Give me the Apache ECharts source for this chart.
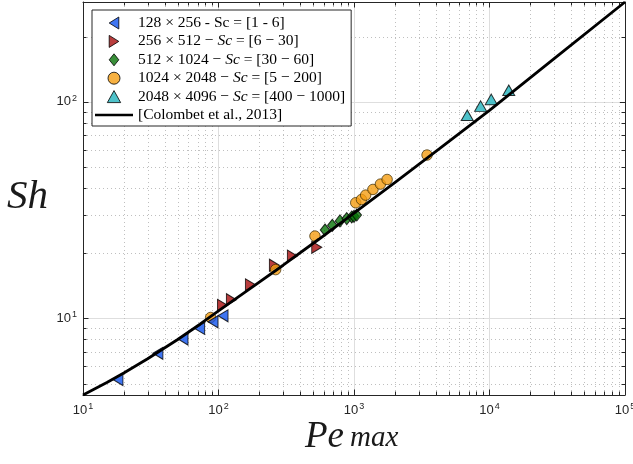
<!DOCTYPE html>
<html>
<head>
<meta charset="utf-8">
<script src="https://cdn.jsdelivr.net/npm/echarts@6/dist/echarts.min.js"></script>
<style>
  html, body { margin: 0; padding: 0; background: #fff; }
  #chart { width: 633px; height: 464px; }
</style>
</head>
<body>
<div id="chart"></div>
<script>
// Series names (legend order)
const seriesNames = [
  '128 × 256 - Sc = [1 - 6]',
  '256 × 512 − Sc = [6 − 30]',
  '512 × 1024 − Sc = [30 − 60]',
  '1024 × 2048 − Sc = [5 − 200]',
  '2048 × 4096 − Sc = [400 − 1000]',
  '[Colombet et al., 2013]'
];

// 128 x 256 runs
const peBlue = [18.1, 35.7, 54.7, 72.6, 91, 108];
const shBlue = [5.22, 6.90, 8.03, 8.99, 9.64, 10.28];

// 256 x 512 runs
const peRed = [107, 124.5, 172, 258.5, 351, 531];
const shRed = [11.5, 12.2, 14.3, 17.6, 19.4, 21.3];

// 512 x 1024 runs
const peGreen = [611, 692, 788, 884, 962, 1000, 1048];
const shGreen = [25.6, 26.9, 28.2, 28.9, 29.4, 29.6, 30.0];

// 1024 x 2048 runs
const peOrange = [87.5, 264, 515, 1030, 1135, 1219, 1380, 1566, 1755, 3460];
const shOrange = [10.1, 16.8, 24.0, 34.2, 35.4, 37.1, 39.4, 41.7, 43.8, 56.8];

// 2048 x 4096 runs
const peCyan = [6850, 8600, 10300, 13870];
const shCyan = [86.7, 95.5, 102.6, 113];

// Correlation of Colombet et al. (2013)
const peRef = [10, 15, 20, 30, 50, 73, 100, 170, 300, 550, 1000, 2000, 4300, 10000, 30000, 100000];
const shRef = [4.43, 5.06, 5.60, 6.51, 7.99, 9.40, 10.83, 13.7, 17.6, 23.2, 30.6, 42.4, 60.9, 91.4, 158.3, 289];

// Axis ranges and minor tick values
const xMin = 10, xMax = 100000;
const yMin = 4.43, yMax = 289;
const xMinorTicks = [20, 30, 40, 50, 60, 70, 80, 90,
                     200, 300, 400, 500, 600, 700, 800, 900,
                     2000, 3000, 4000, 5000, 6000, 7000, 8000, 9000,
                     20000, 30000, 40000, 50000, 60000, 70000, 80000, 90000];
const yMinorTicks = [5, 6, 7, 8, 9, 20, 30, 40, 50, 60, 70, 80, 90, 200];

const zip = (a, b) => a.map((v, i) => [v, b[i]]);

const axisColor = '#262626';
const minorLen = 3.5;
const majorLen = 5.5;

// marker shapes
const triLeft = 'path://M0,5L8,0L8,10Z';
const triRight = 'path://M8,5L0,0L0,10Z';
const triUp = 'path://M5,0L10,9L0,9Z';
const diamond = 'path://M4,0L8,5L4,10L0,5Z';
const lineIcon = 'path://M0,0L38,0L38,2.6L0,2.6Z';

function powLabel(v) {
  const e = Math.round(Math.log10(v));
  if (Math.abs(v - Math.pow(10, e)) < 1e-6 * v) return '{b|10}{s|' + e + '}';
  return '';
}
const labelRich = {
  b: { fontSize: 13, fontFamily: 'Liberation Sans', color: axisColor },
  s: { fontSize: 9, fontFamily: 'Liberation Sans', color: axisColor, padding: [0, 0, 7, 1] }
};

function legendLabel(name) {
  if (name.indexOf('−') >= 0) {
    const parts = name.split('Sc');
    return '{r|' + parts[0] + '}{i|Sc}{r|' + parts[1] + '}';
  }
  return '{r|' + name + '}';
}

// dotted minor grid lines and inward minor ticks along x
function renderMinorX(params, api) {
  const v = api.value(0);
  const b = api.coord([v, yMin]);
  const t = api.coord([v, yMax]);
  const x = Math.round(b[0]) + 0.5;
  return {
    type: 'group',
    children: [
      { type: 'line', shape: { x1: x, y1: t[1], x2: x, y2: b[1] },
        style: { stroke: '#bfbfbf', lineWidth: 1, lineDash: [1, 3] } },
      { type: 'line', shape: { x1: x, y1: b[1], x2: x, y2: b[1] - minorLen },
        style: { stroke: axisColor, lineWidth: 1 } },
      { type: 'line', shape: { x1: x, y1: t[1], x2: x, y2: t[1] + minorLen },
        style: { stroke: axisColor, lineWidth: 1 } }
    ]
  };
}
// same along y
function renderMinorY(params, api) {
  const v = api.value(1);
  const l = api.coord([xMin, v]);
  const r = api.coord([xMax, v]);
  const y = Math.round(l[1]) + 0.5;
  return {
    type: 'group',
    children: [
      { type: 'line', shape: { x1: l[0], y1: y, x2: r[0], y2: y },
        style: { stroke: '#bfbfbf', lineWidth: 1, lineDash: [1, 3] } },
      { type: 'line', shape: { x1: l[0], y1: y, x2: l[0] + minorLen, y2: y },
        style: { stroke: axisColor, lineWidth: 1 } },
      { type: 'line', shape: { x1: r[0], y1: y, x2: r[0] - minorLen, y2: y },
        style: { stroke: axisColor, lineWidth: 1 } }
    ]
  };
}

const baseAxis = {
  type: 'log',
  logBase: 10,
  axisLine: { show: true, onZero: false, lineStyle: { color: axisColor, width: 1 } },
  axisTick: { show: true, inside: true, length: majorLen, lineStyle: { color: axisColor, width: 1 } },
  minorTick: { show: false },
  splitLine: { show: false }
};

const chart = echarts.init(document.getElementById('chart'), null, { renderer: 'canvas' });

chart.setOption({
  animation: false,
  backgroundColor: '#ffffff',
  grid: { left: 83, right: 8, top: 2, bottom: 69, containLabel: false, outerBoundsMode: 'none' },
  xAxis: [
    Object.assign({}, baseAxis, {
      position: 'bottom', min: xMin, max: xMax,
      axisLabel: { show: true, margin: 7, formatter: powLabel, rich: labelRich },
      splitLine: { show: true, lineStyle: { color: '#dedede', width: 1 } }
    }),
    Object.assign({}, baseAxis, {
      position: 'top', min: xMin, max: xMax,
      axisLabel: { show: false }
    })
  ],
  yAxis: [
    Object.assign({}, baseAxis, {
      position: 'left', min: yMin, max: yMax,
      axisLabel: { show: true, margin: 6, formatter: powLabel, rich: labelRich },
      splitLine: { show: true, lineStyle: { color: '#dedede', width: 1 } }
    }),
    Object.assign({}, baseAxis, {
      position: 'right', min: yMin, max: yMax,
      axisLabel: { show: false }
    })
  ],
  legend: {
    data: [
      { name: seriesNames[0], icon: triLeft },
      { name: seriesNames[1], icon: triRight },
      { name: seriesNames[2], icon: diamond },
      { name: seriesNames[3], icon: 'circle' },
      { name: seriesNames[4], icon: triUp },
      { name: seriesNames[5], icon: lineIcon, itemStyle: { borderWidth: 0 } }
    ],
    orient: 'vertical',
    left: 92,
    top: 10,
    padding: [5, 6, 3, 3],
    itemGap: 2.4,
    itemWidth: 38,
    itemHeight: 12,
    symbolKeepAspect: true,
    backgroundColor: '#ffffff',
    borderColor: axisColor,
    borderWidth: 1,
    borderRadius: 0,
    itemStyle: { borderWidth: 1, borderColor: '#000' },
    formatter: legendLabel,
    textStyle: {
      color: '#000',
      fontFamily: 'Liberation Serif',
      fontSize: 15.5,
      lineHeight: 16,
      rich: {
        r: { fontFamily: 'Liberation Serif', fontSize: 15.5, color: '#000' },
        i: { fontFamily: 'Liberation Serif', fontStyle: 'italic', fontSize: 15.5, color: '#000' }
      }
    }
  },
  graphic: [
    { type: 'text', x: 7, y: 197, silent: true,
      style: { text: 'Sh', font: 'italic 41px "Liberation Serif"', fill: '#1a1a1a',
               verticalAlign: 'middle', align: 'left' } },
    { type: 'text', x: 305, y: 437, silent: true,
      style: { text: 'Pe', font: 'italic 37px "Liberation Serif"', fill: '#1a1a1a',
               verticalAlign: 'middle', align: 'left' } },
    { type: 'text', x: 350, y: 438, silent: true,
      style: { text: 'max', font: 'italic 29px "Liberation Serif"', fill: '#1a1a1a',
               verticalAlign: 'middle', align: 'left' } }
  ],
  series: [
    { type: 'custom', name: 'minor-x', silent: true, xAxisIndex: 0, yAxisIndex: 0,
      data: xMinorTicks.map(v => [v, yMin]), renderItem: renderMinorX, z: 1 },
    { type: 'custom', name: 'minor-y', silent: true, xAxisIndex: 0, yAxisIndex: 0,
      data: yMinorTicks.map(v => [xMin, v]), renderItem: renderMinorY, z: 1 },
    { name: seriesNames[2], type: 'scatter', data: zip(peGreen, shGreen),
      symbol: diamond, symbolSize: [9.5, 12], z: 3,
      itemStyle: { color: '#087308', borderColor: '#000', borderWidth: 1 } },
    { name: seriesNames[1], type: 'scatter', data: zip(peRed, shRed),
      symbol: triRight, symbolSize: [10, 12], z: 3,
      itemStyle: { color: '#a80c0c', borderColor: '#000', borderWidth: 1 } },
    { name: seriesNames[3], type: 'scatter', data: zip(peOrange, shOrange),
      symbol: 'circle', symbolSize: 10.5, z: 3,
      itemStyle: { color: '#f59d11', borderColor: '#3a2a00', borderWidth: 0.9 } },
    { name: seriesNames[0], type: 'scatter', data: zip(peBlue, shBlue),
      symbol: triLeft, symbolSize: [10, 12], z: 3,
      itemStyle: { color: '#0f52ee', borderColor: '#000', borderWidth: 1 } },
    { name: seriesNames[4], type: 'scatter', data: zip(peCyan, shCyan),
      symbol: triUp, symbolSize: [12, 10.5], z: 3,
      itemStyle: { color: '#22b3bd', borderColor: '#000', borderWidth: 1 } },
    { name: seriesNames[5], type: 'line', data: zip(peRef, shRef),
      symbol: 'none', showSymbol: false, z: 4,
      itemStyle: { color: '#000' },
      lineStyle: { color: '#000', width: 2.8 } }
  ]
});
</script>
</body>
</html>
